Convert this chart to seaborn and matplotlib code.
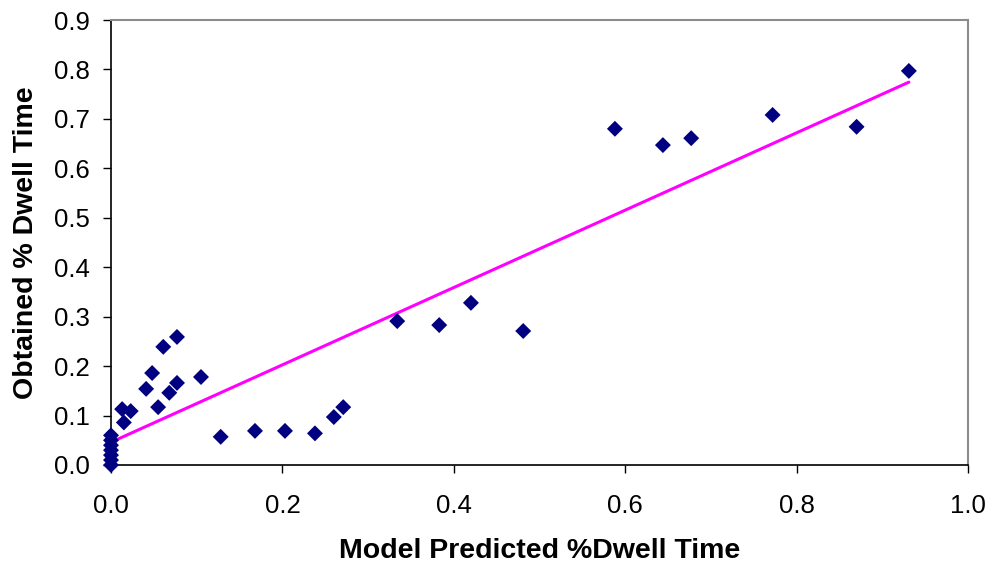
import matplotlib
matplotlib.use("Agg")
import matplotlib.pyplot as plt
import seaborn as sns
import numpy as np
import pandas as pd

# Predicted vs. obtained share of dwell time per area of interest
predicted = [0.0, 0.0, 0.0, 0.0, 0.0, 0.0, 0.0,
             0.013, 0.015, 0.023, 0.041, 0.048, 0.055, 0.061, 0.068,
             0.077, 0.077, 0.105, 0.128, 0.168, 0.203, 0.238, 0.260,
             0.271, 0.334, 0.383, 0.420, 0.481, 0.588, 0.644, 0.677,
             0.772, 0.870, 0.931]
obtained = [0.0, 0.01, 0.02, 0.03, 0.04, 0.05, 0.06,
            0.113, 0.086, 0.109, 0.154, 0.186, 0.117, 0.239, 0.146,
            0.259, 0.166, 0.178, 0.057, 0.069, 0.069, 0.064, 0.097,
            0.117, 0.291, 0.283, 0.328, 0.271, 0.680, 0.647, 0.661,
            0.708, 0.684, 0.797]

x_ticks = [0.0, 0.2, 0.4, 0.6, 0.8, 1.0]
y_ticks = [0.0, 0.1, 0.2, 0.3, 0.4, 0.5, 0.6, 0.7, 0.8, 0.9]

df = pd.DataFrame({"predicted": predicted, "obtained": obtained})

sns.set_style("white")
plt.rcParams["font.family"] = ["Liberation Sans", "DejaVu Sans"]
plt.rcParams["text.color"] = "black"
plt.rcParams["axes.labelcolor"] = "black"
plt.rcParams["xtick.color"] = "black"
plt.rcParams["ytick.color"] = "black"

fig = plt.figure(figsize=(9.94, 5.71), dpi=100)
ax = fig.add_axes([111 / 994, 106 / 571, 857 / 994, 445 / 571])

# least-squares trend line over the data range
sns.regplot(data=df, x="predicted", y="obtained", ax=ax, scatter=False,
            ci=None, truncate=True,
            line_kws={"color": "#FF00FF", "linewidth": 2.2, "zorder": 2})
sns.scatterplot(data=df, x="predicted", y="obtained", ax=ax, marker="D",
                s=66, color="#000080", edgecolor="none", zorder=3,
                clip_on=False)

ax.set_xlim(0, 1.0)
ax.set_ylim(0, 0.9)
ax.set_xticks(x_ticks)
ax.set_yticks(y_ticks)
ax.set_xticklabels([f"{v:.1f}" for v in x_ticks])
ax.set_yticklabels([f"{v:.1f}" for v in y_ticks])
ax.tick_params(axis="both", direction="out", length=6, width=1,
               color="black", labelcolor="black", labelsize=18.5,
               bottom=True, left=True)
ax.tick_params(axis="x", pad=15)
ax.tick_params(axis="y", pad=9.4)

for side in ("left", "bottom"):
    ax.spines[side].set_color("black")
    ax.spines[side].set_linewidth(1.2)
for side in ("top", "right"):
    ax.spines[side].set_visible(True)
    ax.spines[side].set_color("#8C8C8C")
    ax.spines[side].set_linewidth(1.5)

ax.set_xlabel("Model Predicted %Dwell Time", fontsize=20.5,
              fontweight="bold", color="black")
ax.set_ylabel("Obtained % Dwell Time", fontsize=20.5,
              fontweight="bold", color="black")
ax.xaxis.set_label_coords(0.5, -0.164)
ax.yaxis.set_label_coords(-0.084, 0.5)

fig.savefig("out.png", dpi=100)
